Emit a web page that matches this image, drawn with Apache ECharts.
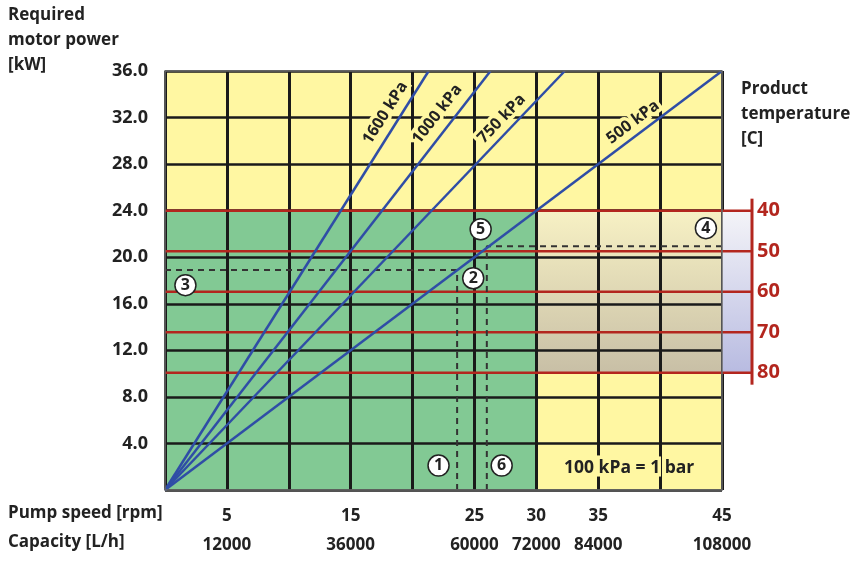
<!DOCTYPE html>
<html><head><meta charset="utf-8">
<script src="https://cdn.jsdelivr.net/npm/echarts@6/dist/echarts.min.js"></script>
<style>html,body{margin:0;padding:0;background:#fff}#c{width:859px;height:566px}</style>
</head><body><div id="c"></div>
<script>
// ---- data ----
const speedTicks = [5, 15, 25, 30, 35, 45];
const capacityTicks = [12000, 36000, 60000, 72000, 84000, 108000];
const pressureNames = ['1600 kPa', '1000 kPa', '750 kPa', '500 kPa'];
const pressureEndSpeed = [21.3, 26.3, 32.3, 45];
const pressureEndPower = [36, 36, 36, 36];
const pressureLabelSpeed = [17.8, 22.0, 27.2, 37.8];
const pressureLabelPower = [32.4, 32.3, 31.9, 31.6];
const tempLabels = [40, 50, 60, 70, 80];
const tempPower = [24.0, 20.52, 17.04, 13.56, 10.08];
const markerNames = ['1', '2', '3', '4', '5', '6'];
const markerSpeed = [22.1, 24.9, 1.65, 43.7, 25.5, 27.2];
const markerPower = [2.1, 18.2, 17.6, 22.5, 22.4, 2.1];
const dash1Speed = [0, 23.6, 23.6];
const dash1Power = [18.9, 18.9, 0];
const dash2Speed = [45, 26.0, 26.0];
const dash2Power = [20.95, 20.95, 0];
const regionX0 = [0, 0, 30];
const regionX1 = [45, 30, 45];
const regionY0 = [0, 0, 10.08];
const regionY1 = [36, 24, 24];
const noteText = '100 kPa = 1 bar';
const noteSpeed = 37.5, notePower = 1.85;

// ---- styles ----
const FONT = '"Open Sans", "Noto Sans", sans-serif';
const YELLOW = '#FFF7A2', GREEN = '#82C994', RED = '#B3261E', BLUE = '#2F4DA6', INK = '#222';
const regionFill = [
  YELLOW, GREEN,
  new echarts.graphic.LinearGradient(0, 0, 0, 1, [{offset: 0, color: '#F7F1C4'}, {offset: 1, color: '#C8BFA6'}])
];
const labelRot = [57.8, 52.1, 46.3, 36.9, 0];
const labelSize = [16, 16, 16, 16, 17.5];

const chart = echarts.init(document.getElementById('c'), null, {renderer: 'canvas'});

const series = [];
// backgrounds
series.push({
  type: 'custom', z: 1, silent: true,
  data: regionX0.map((x, i) => [x, regionY0[i], regionX1[i], regionY1[i], i]),
  renderItem: function (params, api) {
    const p0 = api.coord([api.value(0), api.value(3)]);
    const p1 = api.coord([api.value(2), api.value(1)]);
    return {type: 'rect', shape: {x: p0[0], y: p0[1], width: p1[0] - p0[0], height: p1[1] - p0[1]},
      style: {fill: regionFill[api.value(4)]}};
  }
});
// right temperature box + axis
series.push({
  type: 'custom', z: 3, silent: true, clip: false,
  data: [[45, tempPower[0], tempPower[tempPower.length - 1]]],
  renderItem: function (params, api) {
    const top = api.coord([45, api.value(1)]);
    const bot = api.coord([45, api.value(2)]);
    return {type: 'group', children: [
      {type: 'rect', shape: {x: top[0], y: top[1], width: 30, height: bot[1] - top[1]},
        style: {fill: new echarts.graphic.LinearGradient(0, 0, 0, 1, [{offset: 0, color: '#F4F4F8'}, {offset: 1, color: '#B8BBE1'}])}},
      {type: 'line', shape: {x1: top[0] + 30, y1: top[1] - 12, x2: bot[0] + 30, y2: bot[1] + 12},
        style: {stroke: RED, lineWidth: 3}}
    ]};
  }
});
// temperature lines
series.push({
  type: 'custom', z: 4, silent: true, clip: false,
  data: tempPower.map((p, i) => [45, p, tempLabels[i]]),
  renderItem: function (params, api) {
    const p = api.value(1);
    const a = api.coord([0, p]);
    const b = api.coord([45, p]);
    return {type: 'group', children: [
      {type: 'line', shape: {x1: a[0], y1: a[1], x2: b[0] + 30, y2: b[1]},
        style: {stroke: RED, lineWidth: 2.5}},
      {type: 'text', x: b[0] + 35, y: b[1],
        style: {text: String(api.value(2)), fill: RED, font: 'bold 20px ' + FONT, verticalAlign: 'middle', align: 'left'}}
    ]};
  }
});
// dashed lines
[[dash1Speed, dash1Power], [dash2Speed, dash2Power]].forEach(function (d) {
  series.push({
    type: 'line', z: 5, silent: true, symbol: 'none',
    data: d[0].map((x, i) => [x, d[1][i]]),
    lineStyle: {color: '#333', width: 2, type: [6, 5]}
  });
});
// text labels with yellow halo
const textNames = pressureNames.concat([noteText]);
const textSpeed = pressureLabelSpeed.concat([noteSpeed]);
const textPower = pressureLabelPower.concat([notePower]);
series.push({
  type: 'custom', z: 6, silent: true, clip: false,
  data: textNames.map((n, i) => [textSpeed[i], textPower[i], i]),
  renderItem: function (params, api) {
    const i = api.value(2);
    const c = api.coord([api.value(0), api.value(1)]);
    const font = 'bold ' + labelSize[i] + 'px ' + FONT;
    const rot = labelRot[i] * Math.PI / 180;
    const base = {type: 'text', x: c[0], y: c[1], rotation: rot};
    return {type: 'group', children: [
      Object.assign({}, base, {style: {text: textNames[i], font: font, fill: YELLOW, stroke: YELLOW, lineWidth: 7, align: 'center', verticalAlign: 'middle'}}),
      Object.assign({}, base, {z2: 5, style: {text: textNames[i], font: font, fill: INK, align: 'center', verticalAlign: 'middle'}})
    ]};
  }
});
// pressure lines
pressureNames.forEach(function (n, i) {
  series.push({
    type: 'line', z: 7, silent: true, symbol: 'none', name: n,
    data: [[0, 0], [pressureEndSpeed[i], pressureEndPower[i]]],
    lineStyle: {color: BLUE, width: 2.5}
  });
});
// circled markers
series.push({
  type: 'scatter', z: 8, silent: true, symbol: 'circle', symbolSize: 21,
  data: markerNames.map((n, i) => ({name: n, value: [markerSpeed[i], markerPower[i]]})),
  itemStyle: {color: '#fff', borderColor: INK, borderWidth: 1.5, opacity: 1},
  label: {show: true, position: 'inside', formatter: '{b}', color: INK, fontFamily: FONT,
    fontWeight: 'bold', fontSize: 16}
});

const option = {
  animation: false,
  backgroundColor: '#fff',
  grid: {left: 165, top: 71, width: 557, height: 419, show: true, borderColor: '#6a6a6a', borderWidth: 1.5, z: 9, backgroundColor: 'transparent'},
  xAxis: [
    {type: 'value', min: 0, max: 45, interval: 5, position: 'bottom', z: 2,
      axisLine: {show: false}, axisTick: {show: false},
      splitLine: {show: true, lineStyle: {color: '#1a1a1a', width: 3}},
      axisLabel: {margin: 18, color: INK, fontFamily: FONT, fontWeight: 'bold', fontSize: 17,
        formatter: v => speedTicks.indexOf(v) >= 0 ? String(v) : ''}},
    {type: 'value', min: 0, max: 45, interval: 5, position: 'bottom', offset: 29, z: 2,
      axisLine: {show: false}, axisTick: {show: false}, splitLine: {show: false},
      axisLabel: {margin: 18, color: INK, fontFamily: FONT, fontWeight: 'bold', fontSize: 17,
        formatter: v => { const k = speedTicks.indexOf(v); return k >= 0 ? String(capacityTicks[k]) : ''; }}}
  ],
  yAxis: {type: 'value', min: 0, max: 36, interval: 4, z: 2,
    axisLine: {show: false}, axisTick: {show: false},
    splitLine: {show: true, lineStyle: {color: '#1a1a1a', width: 2.5}},
    axisLabel: {margin: 17, color: INK, fontFamily: FONT, fontWeight: 'bold', fontSize: 18,
      formatter: v => v === 0 ? '' : v.toFixed(1)}},
  graphic: [
    {type: 'text', left: 8, top: 3, style: {text: 'Required\nmotor power\n[kW]', fill: INK, font: 'bold 17px ' + FONT, lineHeight: 25}},
    {type: 'text', left: 741, top: 77, style: {text: 'Product\ntemperature\n[C]', fill: INK, font: 'bold 17px ' + FONT, lineHeight: 25}},
    {type: 'text', left: 8, top: 505, style: {text: 'Pump speed [rpm]', fill: INK, font: 'bold 17px ' + FONT}},
    {type: 'text', left: 8, top: 534, style: {text: 'Capacity [L/h]', fill: INK, font: 'bold 17px ' + FONT}}
  ],
  series: series
};
chart.setOption(option);
</script></body></html>
